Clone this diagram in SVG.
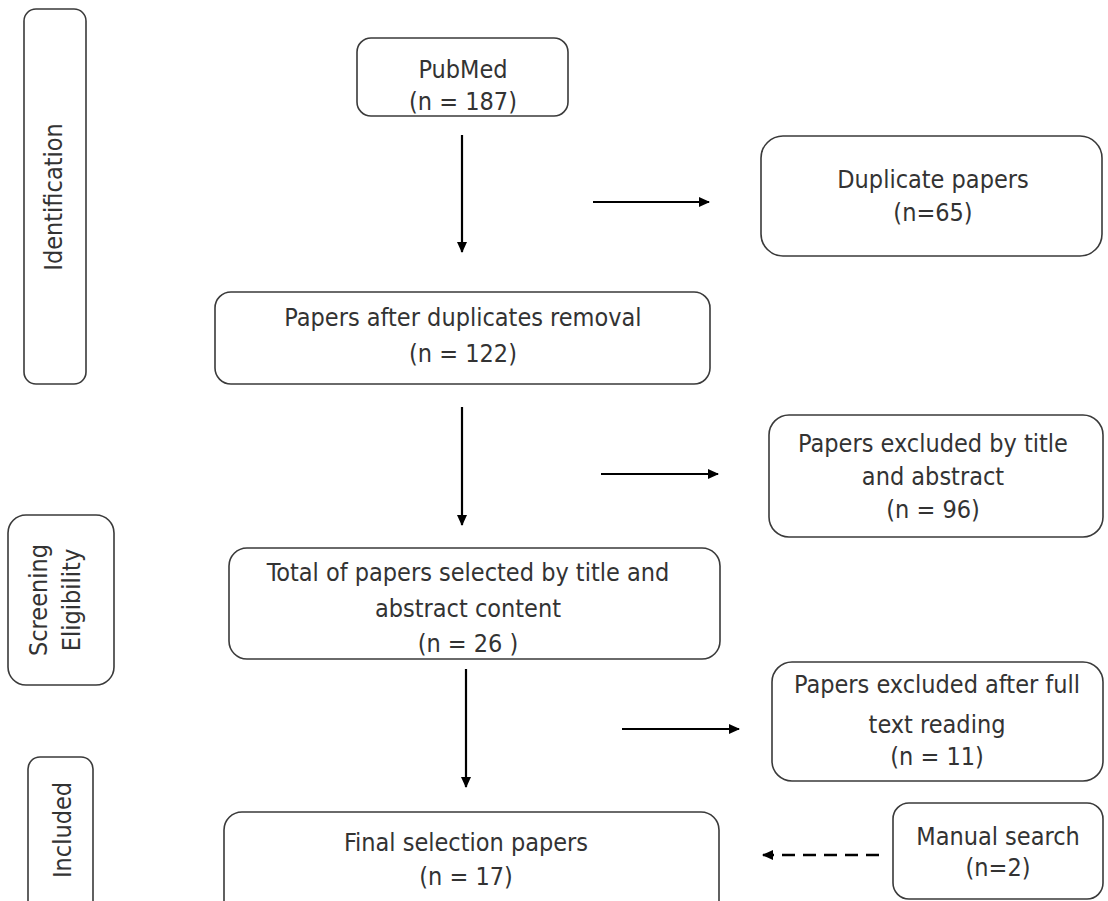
<svg xmlns="http://www.w3.org/2000/svg" width="1108" height="901" viewBox="0 0 1108 901">
<style>
.box{fill:#fff;stroke:#3a3a3a;stroke-width:1.6}
.t{font-family:"Liberation Sans Narrow","DejaVu Sans Condensed","Liberation Sans",sans-serif;font-size:25px;fill:#333;text-anchor:middle}
.c{stroke:#000;stroke-width:2.2;fill:none}
.d{stroke:#000;stroke-width:2.4;fill:none;stroke-dasharray:13 8}
</style>
<defs>
<marker id="ah" markerWidth="12" markerHeight="12" refX="10" refY="6" orient="auto" markerUnits="userSpaceOnUse">
<path d="M0,1 L11,6 L0,11 Z" fill="#000"/>
</marker>
</defs>
<rect width="1108" height="901" fill="#fff"/>
<g id="identification">
<rect class="box" x="24" y="9" width="62" height="375" rx="12"/>
<text class="t" transform="translate(62,197) rotate(-90)">Identification</text>
</g>
<g id="screening">
<rect class="box" x="8" y="515" width="106" height="170" rx="18"/>
<text class="t" transform="translate(47,600) rotate(-90)">Screening</text>
<text class="t" transform="translate(80,600) rotate(-90)">Eligibility</text>
</g>
<g id="included">
<rect class="box" x="28" y="757" width="65" height="170" rx="12"/>
<text class="t" transform="translate(71,830) rotate(-90)">Included</text>
</g>
<g id="pubmed">
<rect class="box" x="357" y="38" width="211" height="78" rx="14"/>
<text class="t" x="463" y="78">PubMed</text>
<text class="t" x="463" y="110">(n = 187)</text>
</g>
<g id="duplicates">
<rect class="box" x="761" y="136" width="341" height="120" rx="22"/>
<text class="t" x="933" y="188">Duplicate  papers</text>
<text class="t" x="933" y="221">(n=65)</text>
</g>
<g id="after">
<rect class="box" x="215" y="292" width="495" height="92" rx="16"/>
<text class="t" x="463" y="326">Papers after duplicates removal</text>
<text class="t" x="463" y="362">(n = 122)</text>
</g>
<g id="excluded1">
<rect class="box" x="769" y="415" width="334" height="122" rx="20"/>
<text class="t" x="933" y="452">Papers excluded by title</text>
<text class="t" x="933" y="485">and abstract</text>
<text class="t" x="933" y="518">(n = 96)</text>
</g>
<g id="total">
<rect class="box" x="229" y="548" width="491" height="111" rx="18"/>
<text class="t" x="468" y="581">Total of papers selected by title and</text>
<text class="t" x="468" y="617">abstract  content</text>
<text class="t" x="468" y="652">(n = 26 )</text>
</g>
<g id="excluded2">
<rect class="box" x="772" y="662" width="331" height="119" rx="20"/>
<text class="t" x="937" y="693">Papers excluded after full</text>
<text class="t" x="937" y="733">text reading</text>
<text class="t" x="937" y="765">(n = 11)</text>
</g>
<g id="final">
<rect class="box" x="224" y="812" width="495" height="110" rx="18"/>
<text class="t" x="466" y="851">Final  selection papers</text>
<text class="t" x="466" y="885">(n = 17)</text>
</g>
<g id="manual">
<rect class="box" x="893" y="803" width="210" height="96" rx="16"/>
<text class="t" x="998" y="845">Manual  search</text>
<text class="t" x="998" y="876">(n=2)</text>
</g>
<g id="connectors">
<line class="c" x1="462" y1="135" x2="462" y2="252" marker-end="url(#ah)"/>
<line class="c" x1="462" y1="407" x2="462" y2="525" marker-end="url(#ah)"/>
<line class="c" x1="466" y1="669" x2="466" y2="787" marker-end="url(#ah)"/>
<line class="c" x1="593" y1="202" x2="709" y2="202" marker-end="url(#ah)"/>
<line class="c" x1="601" y1="474" x2="718" y2="474" marker-end="url(#ah)"/>
<line class="c" x1="622" y1="729" x2="739" y2="729" marker-end="url(#ah)"/>
<line class="d" x1="879" y1="855" x2="763" y2="855" marker-end="url(#ah)"/>
</g>
</svg>
